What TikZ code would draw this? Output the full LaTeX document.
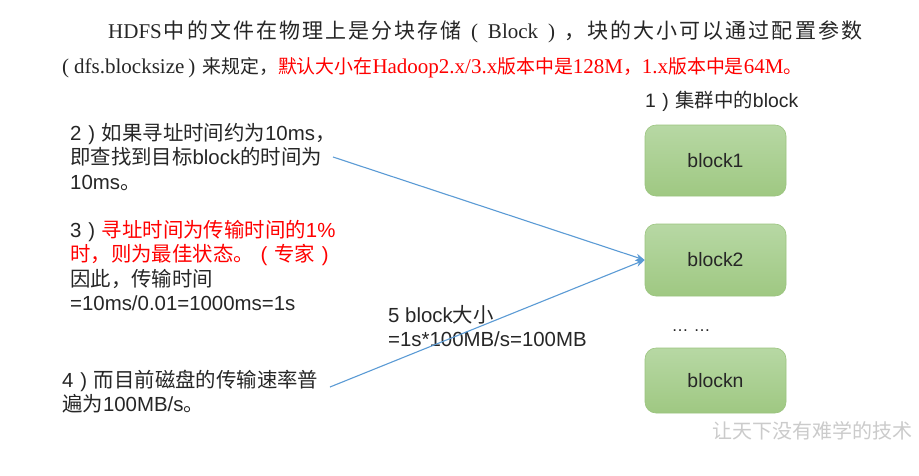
\documentclass[tikz,border=0pt]{standalone}
\usepackage{fontspec}
\usetikzlibrary{arrows.meta}
\setmainfont{Liberation Sans}
\newfontfamily\serifrm{Liberation Serif}
\newfontfamily\cjk{Noto Sans CJK SC}
\newfontfamily\cjkh[Scale=0.9]{Noto Sans CJK SC}
\newcommand\zh[1]{{\cjk #1}}
\newcommand\zhh[1]{{\cjkh #1}}
\newcommand\fwl{\hbox to 1em{\hss(\hss}}
\newcommand\fwr{\hbox to 1em{\hss)\hss}}
\def\spreadEnd{\spreadEnd}
\def\spreadchars#1{\spreadA#1\spreadEnd}
\def\spreadA#1{\ifx\spreadEnd#1\else#1\hfil\expandafter\spreadA\fi}
\definecolor{txt}{HTML}{262626}
\definecolor{redtxt}{HTML}{FF0000}
\definecolor{arrowblue}{HTML}{5B9BD5}
\definecolor{gtop}{HTML}{B7D8A4}
\definecolor{gbot}{HTML}{9FC882}
\definecolor{gborder}{HTML}{9BC47F}
\definecolor{wm}{HTML}{CBCBCB}
\tikzset{
  blockbox/.style={draw=gborder, line width=0.6pt, rounded corners=11pt, top color=gtop, bottom color=gbot, minimum width=141pt, text=txt, font=\fontsize{19.4}{22}\selectfont},
  note/.style={anchor=north west, align=left, inner sep=0pt, text=txt, font=\fontsize{20.4}{24.4}\selectfont},
  hdr/.style={anchor=base west, inner sep=0pt, text=txt, font=\serifrm\fontsize{21}{24}\selectfont},
  conn/.style={draw=arrowblue, line width=1.1pt, -{Stealth[length=9pt,width=7pt]}}
}
\begin{document}
\begin{tikzpicture}[x=1pt,y=-1pt]
\fill[white] (0,0) rectangle (919,475);
\useasboundingbox (0,0) rectangle (919,475);
% header text
\node[hdr] (h1) at (108,38)
  {\hbox to 754pt{HDFS\hfil\zh{\spreadchars{中的文件在物理上是分块存储}}\fwl\hskip 3pt Block\hskip 3pt\fwr\hfil\zh{\spreadchars{，块的大小可以通过配置参数}\unskip}}};
\node[hdr] (h2) at (62,73)
  {(\hskip 5pt dfs.blocksize\hskip 4pt)\hskip 7pt\zhh{来规定，}\textcolor{redtxt}{\zhh{默认大小在}Hadoop2.x/3.x\zhh{版本中是}128M\zhh{，}1.x\zhh{版本中是}64M\zhh{。}}};
% cluster
\node[anchor=base west, inner sep=0pt, text=txt, font=\fontsize{19.4}{22}\selectfont] (c1) at (645,107) {1\fwr\zh{集群中的}block};
\node[blockbox, minimum height=71pt] (b1) at (715.5,160.5) {block1};
\node[blockbox, minimum height=72pt] (b2) at (715.5,260) {block2};
\node[anchor=base, inner sep=0pt, text=txt, font=\fontsize{17}{20}\selectfont] (dots) at (691,331) {…\hskip 5pt…};
\node[blockbox, minimum height=65pt] (bn) at (715.5,380.5) {blockn};
\node[anchor=center, inner sep=0pt, text=wm, font=\cjk\fontsize{20}{22}\selectfont] (wmark) at (812,431) {让天下没有难学的技术};
% notes
\node[note] (n2) at (70,123) {2\fwr\zh{如果寻址时间约为}10ms\zh{，}\\\zh{即查找到目标}block\zh{的时间为}\\10ms\zh{。}};
\node[note] (n3) at (70,220) {3\fwr\textcolor{redtxt}{\zh{寻址时间为传输时间的}1\%}\\\textcolor{redtxt}{\zh{时，则为最佳状态。}\fwl\zh{专家}\fwr}\\\zh{因此，传输时间}\\=10ms/0.01=1000ms=1s};
\node[note] (n4) at (62,370) {4\fwr\zh{而目前磁盘的传输速率普}\\\zh{遍为}100MB/s\zh{。}};
\node[note] (n5) at (388,305) {5 block\zh{大小}\\=1s*100MB/s=100MB};
% connectors
\coordinate (s2) at (333,157);
\coordinate (s4) at (330,387);
\draw[conn] (s2) -- (b2.west);
\draw[conn] (s4) -- (b2.west);
\end{tikzpicture}
\end{document}
